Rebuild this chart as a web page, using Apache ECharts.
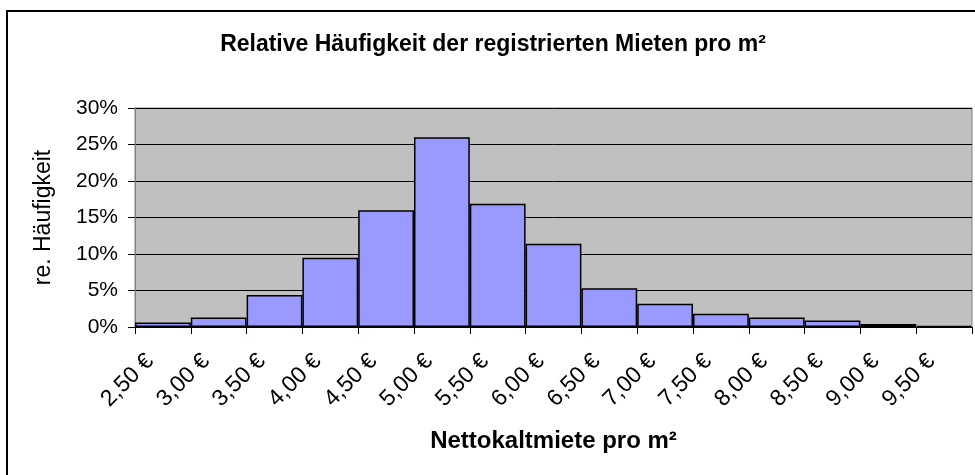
<!DOCTYPE html>
<html>
<head>
<meta charset="utf-8">
<script src="https://cdn.jsdelivr.net/npm/echarts@6/dist/echarts.min.js"></script>
<style>
html, body { margin: 0; padding: 0; background: #fff; }
#chart { width: 975px; height: 475px; }
</style>
</head>
<body>
<div id="chart"></div>
<script>
var categories = ['2,50 €', '3,00 €', '3,50 €', '4,00 €', '4,50 €', '5,00 €', '5,50 €', '6,00 €',
	'6,50 €', '7,00 €', '7,50 €', '8,00 €', '8,50 €', '9,00 €', '9,50 €'];
var shares = [0.6, 1.3, 4.4, 9.5, 16.0, 26.0, 16.9, 11.4, 5.3, 3.2, 1.8, 1.3, 0.9, 0.4, 0.15];

var dom = document.getElementById('chart');
var myChart = echarts.init(dom);

var font = 'Liberation Sans, Arial, sans-serif';

var option = {
	animation: false,
	textStyle: { fontFamily: font },
	title: {
		text: 'Relative Häufigkeit der registrierten Mieten pro m²',
		left: 488,
		textAlign: 'center',
		top: 28,
		textStyle: { fontSize: 23, fontWeight: 'bold', color: '#000', fontFamily: font }
	},
	graphic: [{
		type: 'rect',
		shape: { x: 7, y: 11, width: 1000, height: 500 },
		style: { fill: 'none', stroke: '#000', lineWidth: 2 },
		silent: true
	}],
	grid: {
		left: 135,
		top: 108,
		right: 3,
		bottom: 148,
		show: true,
		backgroundColor: '#c0c0c0',
		borderColor: '#808080',
		borderWidth: 1
	},
	xAxis: {
		type: 'category',
		data: categories,
		name: 'Nettokaltmiete pro m²',
		nameLocation: 'middle',
		nameGap: 102,
		nameTextStyle: { fontSize: 24, fontWeight: 'bold', color: '#000' },
		axisLine: { lineStyle: { color: '#000', width: 1 } },
		axisTick: { show: true, length: 7, lineStyle: { color: '#000' } },
		axisLabel: { rotate: 45, margin: 18, padding: [0, 18, 0, 0], fontSize: 23, color: '#000', interval: 0 }
	},
	yAxis: {
		type: 'value',
		min: 0,
		max: 30,
		interval: 5,
		name: 're. Häufigkeit',
		nameLocation: 'middle',
		nameGap: 80,
		nameTextStyle: { fontSize: 23, color: '#000' },
		axisLine: { show: true, lineStyle: { color: '#808080' } },
		axisTick: { show: true, length: 7, lineStyle: { color: '#000' } },
		axisLabel: { formatter: '{value}%', fontSize: 21, color: '#000', margin: 17 },
		splitLine: { lineStyle: { color: '#000', width: 1 } }
	},
	series: [{
		type: 'bar',
		data: shares,
		barCategoryGap: 0,
		itemStyle: { color: '#9999ff', borderColor: '#000', borderWidth: 1.5 }
	}]
};

myChart.setOption(option);
window.onresize = function () {
	myChart.resize();
};
</script>
</body>
</html>
